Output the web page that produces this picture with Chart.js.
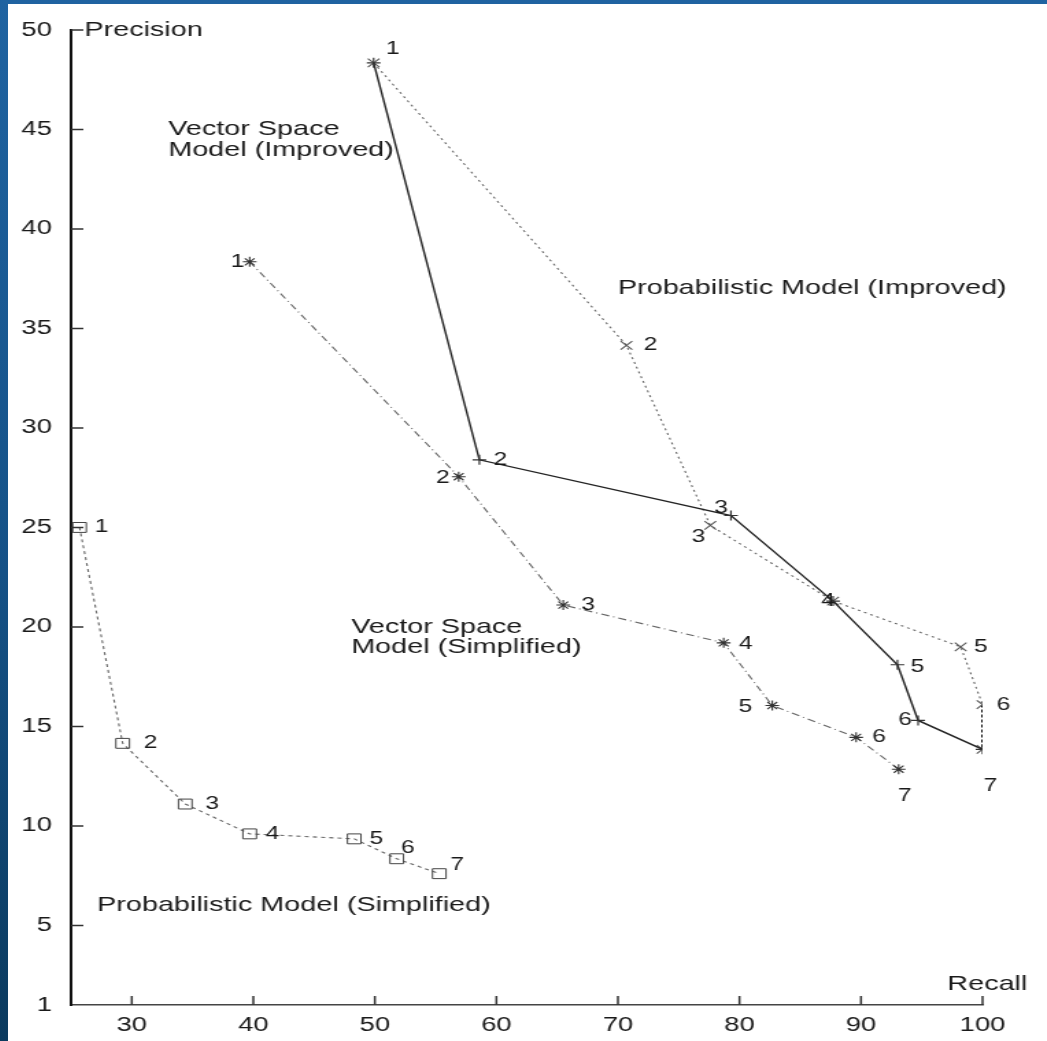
<!DOCTYPE html>
<html>
<head>
<meta charset="utf-8">
<script src="https://cdn.jsdelivr.net/npm/chart.js@4.4.1/dist/chart.umd.min.js"></script>
<style>
  html, body { margin: 0; padding: 0; }
  body {
    width: 1047px; height: 1041px; overflow: hidden; position: relative;
    background: linear-gradient(to bottom, #1f63a1 0%, #155186 55%, #0b3a5e 100%);
  }
  #chart { position: absolute; left: 8px; top: 4px; background: #fff; }
</style>
</head>
<body>
<!-- the original figure is stretched sideways, so the canvas is too (inline size keeps Chart.js from resetting it) -->
<canvas id="chart" width="758" height="1037" style="width:1039px;height:1037px"></canvas>
<script>
// recall (x) / precision (y) for each run, points 1..7
const vsImprovedRecall = [49.9, 58.6, 79.3, 87.7, 93.0, 94.7, 100];
const vsImprovedPrecision = [48.35, 28.4, 25.6, 21.3, 18.1, 15.3, 13.85];

const probImprovedRecall = [49.9, 70.7, 77.6, 87.7, 98.2, 100, 100];
const probImprovedPrecision = [48.35, 34.15, 25.1, 21.3, 19.0, 16.1, 13.85];

const vsSimplifiedRecall = [39.7, 56.9, 65.5, 78.7, 82.7, 89.6, 93.1];
const vsSimplifiedPrecision = [38.35, 27.55, 21.1, 19.2, 16.05, 14.45, 12.85];

const probSimplifiedRecall = [25.7, 29.25, 34.4, 39.7, 48.3, 51.8, 55.3];
const probSimplifiedPrecision = [25.0, 14.15, 11.1, 9.6, 9.35, 8.35, 7.6];

const xTicks = [30, 40, 50, 60, 70, 80, 90, 100];
const yTicks = [1, 5, 10, 15, 20, 25, 30, 35, 40, 45, 50];

// text notes placed in data coordinates: [text, recall, precision]
const notes = [
  ["Vector Space", 33.0, 45.0],
  ["Model (Improved)", 33.0, 43.95],
  ["Probabilistic Model (Improved)", 70.0, 37.0],
  ["Vector Space", 48.05, 20.0],
  ["Model (Simplified)", 48.05, 19.0],
  ["Probabilistic Model (Simplified)", 27.15, 6.0],
  ["Precision", 26.1, 50.0],
  ["Recall", 97.1, 2.05]
];

const STRETCH = 1039 / 758;
const FONT = "'Liberation Sans', Arial, Helvetica, sans-serif";

// where the point numbers sit next to each marker (screen px), null = not drawn
const labelOffsets = [
  [[19, -14], [21, 0], [-10, -7], [-5, 0], [20, 2], [-13, 0], [8, 37]],
  [null, [24, 0], [-12, 12], null, [20, 0], [21, 0], null],
  [[-12, 0], [-16, 1], [25, 0], [22, 1], [-27, 1], [23, 0], [6, 27]],
  [[22, 0], [28, 0], [27, 0], [23, 0], [22, 0], [11, -11], [18, -9]]
];

function toPoints(xs, ys) {
  return xs.map((x, i) => ({ x: x, y: ys[i] }));
}

const pointLabels = {
  id: "pointLabels",
  afterDatasetsDraw(chart) {
    const ctx = chart.ctx;
    ctx.save();
    ctx.fillStyle = "#1a1a1a";
    ctx.font = "18px " + FONT;
    ctx.textAlign = "center";
    ctx.textBaseline = "middle";
    chart.data.datasets.forEach((ds, i) => {
      const offs = labelOffsets[i];
      chart.getDatasetMeta(i).data.forEach((pt, j) => {
        const o = offs[j];
        if (!o) return;
        ctx.fillText(String(j + 1), pt.x + o[0] / STRETCH, pt.y + o[1]);
      });
    });
    ctx.restore();
  }
};

const notesAndTicks = {
  id: "notesAndTicks",
  afterDraw(chart) {
    const ctx = chart.ctx;
    const xs = chart.scales.x;
    const ys = chart.scales.y;
    const area = chart.chartArea;
    ctx.save();
    // inward tick marks
    ctx.strokeStyle = "#333";
    ctx.lineWidth = 1.5;
    ctx.beginPath();
    yTicks.slice(1).forEach(v => {
      const py = ys.getPixelForValue(v);
      ctx.moveTo(area.left, py);
      ctx.lineTo(area.left + 9, py);
    });
    xTicks.forEach(v => {
      const px = xs.getPixelForValue(v);
      ctx.moveTo(px, area.bottom);
      ctx.lineTo(px, area.bottom - 9);
    });
    ctx.stroke();

    ctx.fillStyle = "#1a1a1a";
    ctx.font = "21px " + FONT;
    ctx.textAlign = "left";
    ctx.textBaseline = "middle";
    notes.forEach(n => {
      ctx.fillText(n[0], xs.getPixelForValue(n[1]), ys.getPixelForValue(n[2]));
    });
    ctx.restore();
  }
};

new Chart(document.getElementById("chart"), {
  type: "scatter",
  data: {
    datasets: [
      {
        label: "Vector Space Model (Improved)",
        data: toPoints(vsImprovedRecall, vsImprovedPrecision),
        showLine: true,
        borderColor: "#222",
        borderWidth: 1.4,
        pointStyle: "cross",
        pointRadius: 5,
        pointBorderColor: "#333",
        pointBorderWidth: 1.2,
        pointBackgroundColor: "rgba(0,0,0,0)"
      },
      {
        label: "Probabilistic Model (Improved)",
        data: toPoints(probImprovedRecall, probImprovedPrecision),
        showLine: true,
        borderColor: "#666",
        borderWidth: 1.1,
        borderDash: [2, 3],
        segment: {
          borderColor: c => (c.p0DataIndex === 5 ? "#111" : undefined),
          borderDash: c => (c.p0DataIndex === 5 ? [3, 2] : undefined),
          borderWidth: c => (c.p0DataIndex === 5 ? 2 : undefined)
        },
        pointStyle: "crossRot",
        pointRadius: 6,
        pointBorderColor: "#555",
        pointBorderWidth: 1.1,
        pointBackgroundColor: "rgba(0,0,0,0)"
      },
      {
        label: "Vector Space Model (Simplified)",
        data: toPoints(vsSimplifiedRecall, vsSimplifiedPrecision),
        showLine: true,
        borderColor: "#666",
        borderWidth: 1.1,
        borderDash: [6, 3, 1, 3],
        pointStyle: "star",
        pointRadius: 5,
        pointBorderColor: "#333",
        pointBorderWidth: 1.1,
        pointBackgroundColor: "rgba(0,0,0,0)"
      },
      {
        label: "Probabilistic Model (Simplified)",
        data: toPoints(probSimplifiedRecall, probSimplifiedPrecision),
        showLine: true,
        borderColor: "#666",
        borderWidth: 1.1,
        borderDash: [3, 3],
        pointStyle: "rect",
        pointRadius: 7,
        pointBorderColor: "#444",
        pointBorderWidth: 1,
        pointBackgroundColor: "rgba(0,0,0,0)"
      }
    ]
  },
  options: {
    responsive: false,
    animation: false,
    devicePixelRatio: 1,
    layout: { padding: { left: 0, top: 21, right: 47, bottom: 0 } },
    plugins: { legend: { display: false }, tooltip: { enabled: false } },
    scales: {
      x: {
        type: "linear",
        position: "bottom",
        min: 25,
        max: 100,
        grid: { display: false, drawTicks: false },
        border: { display: true, color: "#444", width: 1.5, dash: [3, 1] },
        ticks: { color: "#1a1a1a", font: { family: FONT, size: 20 }, padding: 8 },
        afterBuildTicks: s => { s.ticks = xTicks.map(v => ({ value: v })); },
        afterFit: s => { s.height = 36; }
      },
      y: {
        type: "linear",
        position: "left",
        min: 1,
        max: 50,
        grid: { display: false, drawTicks: false },
        border: { display: true, color: "#111", width: 2 },
        ticks: { color: "#1a1a1a", font: { family: FONT, size: 20 }, padding: 14 },
        afterBuildTicks: s => { s.ticks = yTicks.map(v => ({ value: v })); },
        afterFit: s => { s.width = 46; }
      }
    }
  },
  plugins: [pointLabels, notesAndTicks]
});
</script>
</body>
</html>
